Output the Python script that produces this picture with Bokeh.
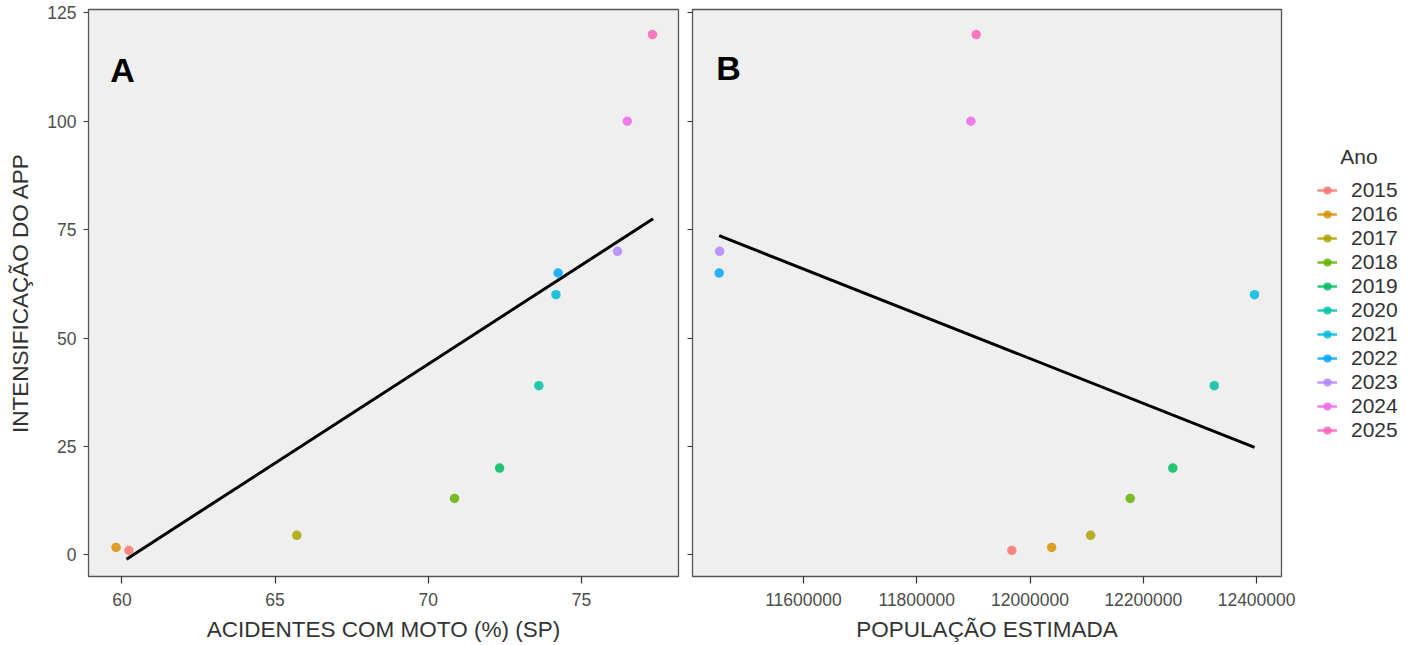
from bokeh.plotting import figure
from bokeh.layouts import row
from bokeh.models import (Range1d, FixedTicker, Legend, LegendItem, Label,
                          BasicTickFormatter, CustomJSTickFormatter)
from bokeh.embed import file_html
from bokeh.resources import INLINE

# ---------------- data ----------------
anos = ["2015", "2016", "2017", "2018", "2019", "2020", "2021", "2022", "2023", "2024", "2025"]
acidentes_moto = [60.23, 59.81, 65.71, 70.86, 72.33, 73.61, 74.17, 74.24, 76.18, 76.50, 77.32]
populacao = [11967825, 12038175, 12106920, 12176866, 12252023, 12325232, 12396372,
             11451245, 11451999, 11895578, 11904961]
intensificacao = [1, 1.7, 4.5, 13, 20, 39, 60, 65, 70, 100, 120]
cores = ["#F8766D", "#DB8E00", "#AEA200", "#64B200", "#00BD5C", "#00C1A7",
         "#00BADE", "#00A6FF", "#B385FF", "#EF67EB", "#FF63B6"]

trend_a_x = [60.15, 77.34]
trend_a_y = [-1.0, 77.5]
trend_b_x = [11451245, 12396372]
trend_b_y = [73.6, 24.8]

y_ticks = [0, 25, 50, 75, 100, 125]
xa_ticks = [60, 65, 70, 75]
xb_ticks = [11600000, 11800000, 12000000, 12200000, 12400000]

FONT = "Liberation Sans"
TICK_COL = "#4D4D4D"
TITLE_COL = "#333333"

y_range = Range1d(-5.0, 125.77)


def style(p):
    p.background_fill_color = "#EFEFEF"
    p.border_fill_color = "white"
    p.outline_line_color = "#555555"
    p.outline_line_width = 1.3
    p.xgrid.visible = False
    p.ygrid.visible = False
    for ax in (p.xaxis[0], p.yaxis[0]):
        ax.axis_line_color = None
        ax.major_tick_line_color = "#333333"
        ax.major_tick_line_width = 1.2
        ax.major_tick_in = 0
        ax.minor_tick_line_color = None
        ax.major_label_text_font = FONT
        ax.major_label_text_font_size = "17.5px"
        ax.major_label_text_color = TICK_COL
        ax.axis_label_text_font = FONT
        ax.axis_label_text_font_size = "22.5px"
        ax.axis_label_text_font_style = "normal"
        ax.axis_label_text_color = TITLE_COL
    p.xaxis[0].major_tick_out = 7
    p.xaxis[0].major_label_standoff = 9
    p.xaxis[0].axis_label_standoff = 8
    p.yaxis[0].major_tick_out = 5
    p.yaxis[0].major_label_standoff = 7


# ---------------- panel A ----------------
pA = figure(frame_width=590, frame_height=567, output_backend="svg", toolbar_location=None,
            x_range=Range1d(58.91, 78.17), y_range=y_range,
            min_border_left=88, min_border_right=7, min_border_top=9, min_border_bottom=50)
style(pA)
pA.xaxis.ticker = FixedTicker(ticks=xa_ticks)
pA.yaxis.ticker = FixedTicker(ticks=y_ticks)
pA.xaxis.axis_label = "ACIDENTES COM MOTO (%) (SP)"
pA.yaxis.axis_label = "INTENSIFICAÇÃO DO APP"
pA.yaxis.axis_label_standoff = 11

pA.line(trend_a_x, trend_a_y, line_color="black", line_width=3)
for i in range(len(anos)):
    pA.scatter([acidentes_moto[i]], [intensificacao[i]], size=9.5, fill_color=cores[i],
               fill_alpha=0.85, line_color=None)

pA.add_layout(Label(x=59.62, y=111.9, text="A", text_font=FONT, text_font_size="34px",
                    text_font_style="bold", text_color="black", text_baseline="alphabetic"))

# ---------------- panel B ----------------
pB = figure(frame_width=589, frame_height=567, output_backend="svg", toolbar_location=None,
            x_range=Range1d(11404100, 12443950), y_range=y_range,
            min_border_left=7, min_border_right=124, min_border_top=9, min_border_bottom=50)
style(pB)
pB.xaxis.ticker = FixedTicker(ticks=xb_ticks)
pB.xaxis.formatter = BasicTickFormatter(use_scientific=False)
pB.yaxis.ticker = FixedTicker(ticks=y_ticks)
pB.yaxis.formatter = CustomJSTickFormatter(code="return ''")
pB.yaxis.major_label_standoff = 0
pB.xaxis.axis_label = "POPULAÇÃO ESTIMADA"

pB.line(trend_b_x, trend_b_y, line_color="black", line_width=3)
items = []
for i in range(len(anos)):
    r = pB.scatter([populacao[i]], [intensificacao[i]], size=9.5, fill_color=cores[i],
                   fill_alpha=0.85, line_color=None)
    rl = pB.line([populacao[i]], [intensificacao[i]], line_color=cores[i],
                 line_alpha=0.85, line_width=2.5)
    items.append(LegendItem(label=anos[i], renderers=[rl, r]))

pB.add_layout(Label(x=11445930, y=112.2, text="B", text_font=FONT, text_font_size="34px",
                    text_font_style="bold", text_color="black", text_baseline="alphabetic"))

legend = Legend(items=items, location=(36, 134), glyph_width=20, glyph_height=24,
                label_height=24, spacing=0, label_standoff=14, padding=0, margin=0,
                label_text_font=FONT, label_text_font_size="21px", label_text_color=TITLE_COL,
                title="\u00a0\u00a0\u00a0\u00a0Ano", title_text_font=FONT,
                title_text_font_size="21px", title_text_font_style="normal",
                title_text_color=TITLE_COL, title_standoff=9,
                border_line_color=None, background_fill_alpha=0)
pB.add_layout(legend, "right")

layout = row(pA, pB)
open("out.html", "w").write(file_html(layout, INLINE))
